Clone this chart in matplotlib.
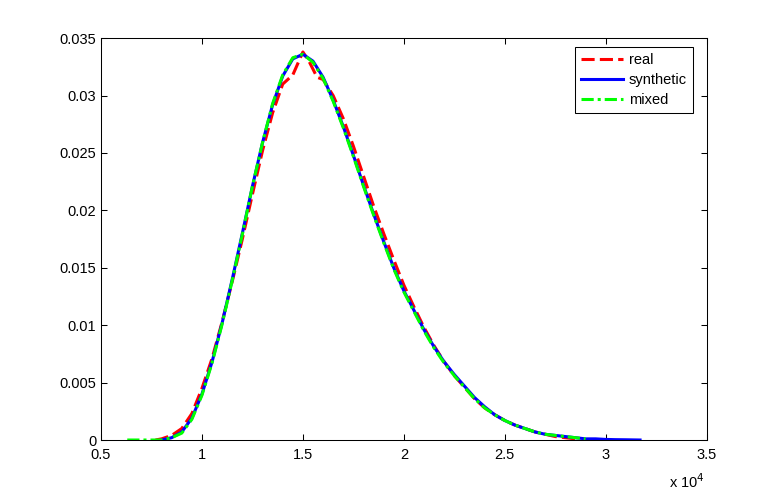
import numpy as np
import matplotlib.pyplot as plt
from matplotlib.ticker import FuncFormatter

plt.rcParams['font.family'] = ['Liberation Sans', 'DejaVu Sans']

# densidade estimada - curva sintetica
x_synthetic = [8000, 8500, 9000, 9500, 10000, 10500, 11000, 11500, 12000, 12500,
               13000, 13500, 14000, 14500, 15000, 15500, 16000, 16500, 17000, 17500,
               18000, 18500, 19000, 19500, 20000, 20500, 21000, 21500, 22000, 22500,
               23000, 23500, 24000, 24500, 25000, 25500, 26000, 26500, 27000, 27500,
               28000, 28500, 29000, 29500, 30000, 30500, 31000, 31700]
y_synthetic = [0.0000, 0.0002, 0.0007, 0.0019, 0.0040, 0.0068, 0.0102, 0.0140, 0.0180, 0.0221,
               0.0259, 0.0292, 0.0317, 0.0332, 0.0336, 0.0330, 0.0316, 0.0296, 0.0273, 0.0248,
               0.0222, 0.0197, 0.0173, 0.0150, 0.0130, 0.0113, 0.0096, 0.0081, 0.0068, 0.0057,
               0.0047, 0.0037, 0.0029, 0.0022, 0.0017, 0.0013, 0.0010, 0.0007, 0.0005, 0.0004,
               0.0003, 0.0002, 0.0001, 0.0001, 0.00005, 0.00003, 0.00002, 0.0]

# curva mista
x_mixed = [6300, 7000, 7500, 8000, 8500, 9000, 9500, 10000, 10500, 11000, 11500,
           12000, 12500, 13000, 13500, 14000, 14500, 15000, 15500, 16000, 16500,
           17000, 17500, 18000, 18500, 19000, 19500, 20000, 20500, 21000, 21500,
           22000, 22500, 23000, 23500, 24000, 24500, 25000, 25500, 26000, 26500,
           27000, 27500, 28000, 28500, 29000]
y_mixed = [0.0, 0.0, 0.0, 0.0000, 0.0002, 0.0006, 0.0018, 0.0039, 0.0067, 0.0101, 0.0139,
           0.0179, 0.0221, 0.0259, 0.0293, 0.0318, 0.0333, 0.0336, 0.0329, 0.0315, 0.0295,
           0.0272, 0.0247, 0.0221, 0.0196, 0.0172, 0.0149, 0.0129, 0.0112, 0.0095, 0.0080,
           0.0067, 0.0056, 0.0046, 0.0036, 0.0028, 0.0022, 0.0017, 0.0013, 0.0010, 0.0007,
           0.0005, 0.0004, 0.0003, 0.0002, 0.0001]

# curva real
x_real = [7700, 8000, 8500, 9000, 9500, 10000, 10500, 11000, 11500, 12000, 12500,
          13000, 13500, 14000, 14500, 15000, 15300, 15700, 16000, 16500, 17000,
          17500, 18000, 18500, 19000, 19500, 20000, 20500, 21000, 21500, 22000,
          22500, 23000, 23500, 24000, 24500, 25000, 25500, 26000, 26500, 27000,
          27500, 28000, 28500]
y_real = [0.0, 0.0001, 0.0004, 0.0010, 0.0023, 0.0045, 0.0071, 0.0103, 0.0138, 0.0175, 0.0214,
          0.0252, 0.0285, 0.0310, 0.0318, 0.0338, 0.0330, 0.0316, 0.0314, 0.0300, 0.0280,
          0.0256, 0.0230, 0.0204, 0.0180, 0.0157, 0.0135, 0.0116, 0.0098, 0.0082, 0.0068,
          0.0056, 0.0046, 0.0036, 0.0028, 0.0022, 0.0017, 0.0013, 0.0010, 0.0007, 0.0005,
          0.0003, 0.0002, 0.0001]

fig = plt.figure(figsize=(7.8, 4.96), dpi=100)
ax = fig.add_axes([0.1295, 0.1129, 0.7765, 0.8101])

ax.plot(np.array(x_real) / 1e4, y_real, color='red', lw=2.2, dashes=(4.3, 1.7), label='real')
ax.plot(np.array(x_synthetic) / 1e4, y_synthetic, color='blue', lw=2.2, label='synthetic')
ax.plot(np.array(x_mixed) / 1e4, y_mixed, color='#00ff00', lw=2.2,
        dashes=(4.0, 1.3, 1.0, 1.3), label='mixed')

ax.set_xlim(0.5, 3.5)
ax.set_ylim(0, 0.035)
ax.set_xticks(np.arange(0.5, 3.51, 0.5))
ax.set_yticks(np.arange(0, 0.0351, 0.005))
ax.xaxis.set_major_formatter(FuncFormatter(lambda v, p: '%g' % v))
ax.yaxis.set_major_formatter(FuncFormatter(lambda v, p: '%g' % round(v, 4)))
ax.tick_params(direction='in', top=True, right=True, length=4.5, width=0.75, labelsize=10.5)
ax.tick_params(axis='x', pad=5.5)
ax.tick_params(axis='y', pad=3.5)
for s in ax.spines.values():
    s.set_linewidth(0.75)

fig.text(0.904, 0.016, r'x 10$^4$', fontsize=10.5, ha='right', va='baseline')

leg = ax.legend(loc='upper right', bbox_to_anchor=(0.9769, 0.9776), fontsize=10.5,
                fancybox=False, framealpha=1, edgecolor='black', handlelength=2.9,
                handletextpad=0.4, borderaxespad=0, borderpad=0.4, labelspacing=0.4)
leg.get_frame().set_linewidth(0.75)

plt.savefig('out.png')
